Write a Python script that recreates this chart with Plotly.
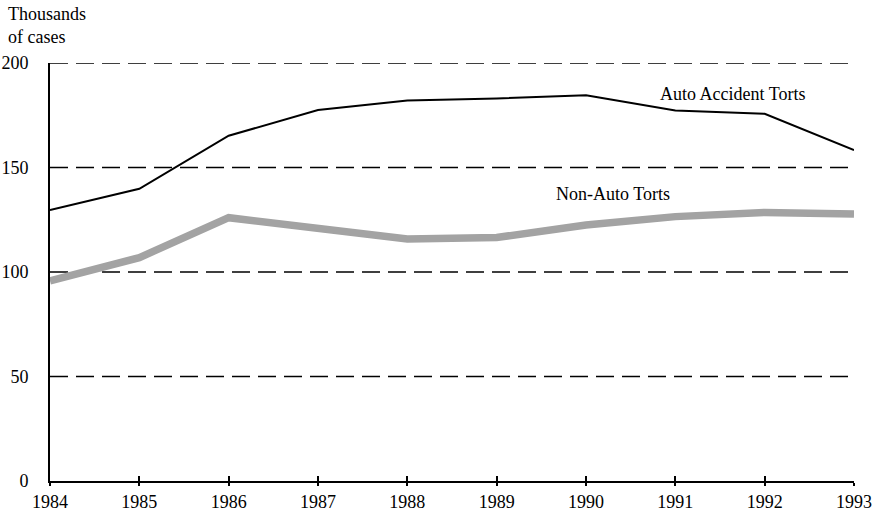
import plotly.graph_objects as go

years = [1984, 1985, 1986, 1987, 1988, 1989, 1990, 1991, 1992, 1993]
auto_accident_torts = [129.6, 139.8, 165.2, 177.5, 182.0, 183.0, 184.6, 177.3, 175.7, 158.3]
non_auto_torts = [95.7, 106.9, 126.0, 120.5, 115.8, 116.5, 122.5, 126.5, 128.5, 127.7]
y_ticks = [0, 50, 100, 150, 200]
grid_levels = [50, 100, 150, 200]

FONT = "Liberation Serif"
FS = 18

fig = go.Figure()

# dashed horizontal reference lines
for g in grid_levels:
    fig.add_trace(go.Scatter(
        x=[years[0], years[-1]], y=[g, g], mode="lines",
        line=dict(color="black", width=1.6, dash="18px,8px"),
        hoverinfo="skip", showlegend=False))

fig.add_trace(go.Scatter(
    x=years, y=non_auto_torts, mode="lines", name="Non-Auto Torts",
    line=dict(color="#a3a3a3", width=7.5), showlegend=False))

fig.add_trace(go.Scatter(
    x=years, y=auto_accident_torts, mode="lines", name="Auto Accident Torts",
    line=dict(color="black", width=2), showlegend=False))

# invisible trace for the inside tick marks on the x axis
fig.add_trace(go.Scatter(x=years, y=[None] * len(years), xaxis="x2",
                         showlegend=False, hoverinfo="skip"))

fig.update_layout(
    width=873, height=512,
    margin=dict(l=50, r=19, t=63, b=31, autoexpand=False),
    paper_bgcolor="white", plot_bgcolor="white",
    font=dict(family=FONT, size=FS, color="black"),
    xaxis=dict(range=[1984, 1993], tickmode="array", tickvals=years,
               ticktext=[str(y) for y in years], automargin=False,
               showgrid=False, zeroline=False, showline=True,
               linecolor="black", linewidth=2,
               ticks="outside", ticklen=3, tickwidth=1.5, tickcolor="black",
               ticklabelstandoff=0,
               tickfont=dict(family=FONT, size=FS, color="black")),
    xaxis2=dict(range=[1984, 1993], overlaying="x", side="bottom",
                tickmode="array", tickvals=years, showticklabels=False,
                showgrid=False, zeroline=False, showline=False, automargin=False,
                ticks="inside", ticklen=5, tickwidth=1.5, tickcolor="black"),
    yaxis=dict(range=[0, 200], tickmode="array", tickvals=y_ticks,
               automargin=False,
               showgrid=False, zeroline=False, showline=True,
               linecolor="black", linewidth=2, ticks="",
               ticklabelstandoff=16,
               tickfont=dict(family=FONT, size=FS, color="black")),
    annotations=[
        dict(text="Thousands<br>of cases", xref="paper", yref="paper",
             x=0, y=1, xshift=-44, yshift=14, xanchor="left", yanchor="bottom",
             align="left", showarrow=False,
             font=dict(family=FONT, size=FS, color="black")),
        dict(text="Auto Accident Torts", x=1991.64, y=185.3, showarrow=False,
             font=dict(family=FONT, size=FS, color="black")),
        dict(text="Non-Auto Torts", x=1990.3, y=137.2, showarrow=False,
             font=dict(family=FONT, size=FS, color="black")),
    ],
)

fig.write_html(
    "out.html",
    config={"displayModeBar": False},
    post_script="document.body.style.margin='0';document.body.style.overflow='hidden';",
)
